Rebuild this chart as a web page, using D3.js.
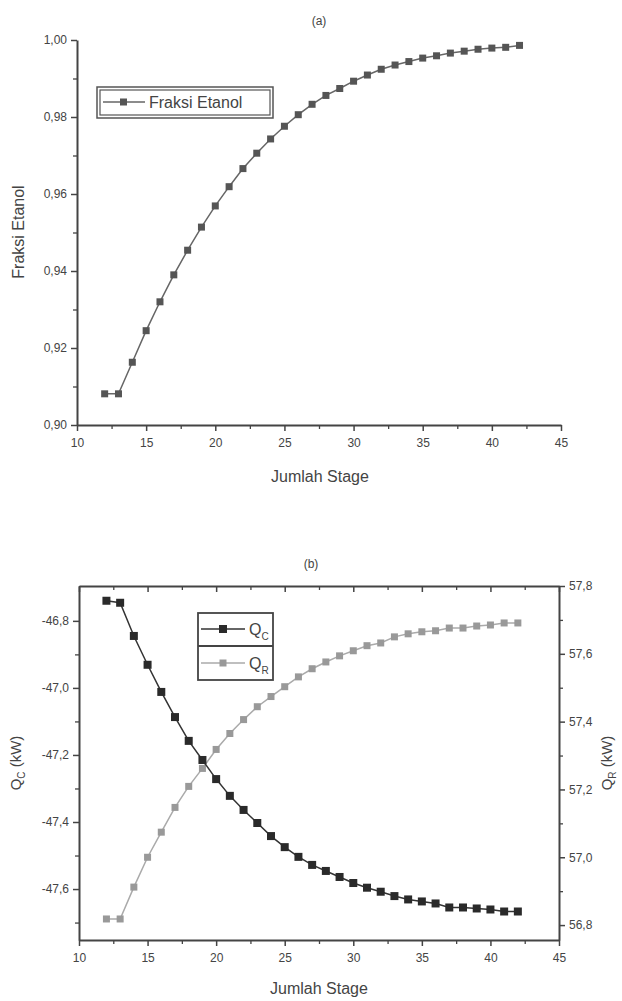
<!DOCTYPE html>
<html><head><meta charset="utf-8">
<script src="https://cdn.jsdelivr.net/npm/d3@7"></script>
<style>body{margin:0;background:#fff}svg{display:block}text{font-family:"Liberation Sans",Arial,sans-serif;fill:#444}</style>
</head><body>
<svg id="c" width="622" height="1001"></svg>
<script>
const stages = [12,13,14,15,16,17,18,19,20,21,22,23,24,25,26,27,28,29,30,31,32,33,34,35,36,37,38,39,40,41,42];
const fraksiEtanol = [0.9081,0.9081,0.9163,0.9245,0.9320,0.9390,0.9454,0.9514,0.9569,0.9619,0.9666,0.9706,0.9743,0.9776,0.9806,0.9833,0.9856,0.9874,0.9893,0.9909,0.9924,0.9935,0.9944,0.9953,0.9959,0.9966,0.9971,0.9976,0.9979,0.9981,0.9986];
const qc = [-46.740,-46.746,-46.845,-46.931,-47.012,-47.087,-47.158,-47.215,-47.272,-47.322,-47.364,-47.403,-47.442,-47.475,-47.504,-47.528,-47.546,-47.564,-47.582,-47.596,-47.608,-47.621,-47.631,-47.637,-47.643,-47.655,-47.655,-47.658,-47.661,-47.667,-47.667];
const qr = [56.818,56.818,56.912,57.000,57.074,57.147,57.209,57.262,57.318,57.365,57.406,57.444,57.474,57.503,57.532,57.556,57.576,57.594,57.609,57.624,57.632,57.650,57.659,57.665,57.668,57.676,57.676,57.682,57.685,57.691,57.691];
const xTicks = [10,15,20,25,30,35,40,45];
const xMinor = [12.5,17.5,22.5,27.5,32.5,37.5,42.5];
const fraksiTicks = [0.90,0.92,0.94,0.96,0.98,1.00];
const fraksiMinor = [0.91,0.93,0.95,0.97,0.99];
const qcTicks = [-46.8,-47.0,-47.2,-47.4,-47.6];
const qcMinor = [-46.9,-47.1,-47.3,-47.5,-47.7];
const qrTicks = [56.8,57.0,57.2,57.4,57.6,57.8];
const qrMinor = [56.9,57.1,57.3,57.5,57.7];

const svg = d3.select("#c");
const AX = "#444";
const comma = f => d => d3.format(f)(d).replace(".", ",").replace("\u2212", "-");

function styleAxis(g, fs) {
  g.select(".domain").attr("stroke", AX).attr("stroke-width", 2);
  g.selectAll(".tick line").attr("stroke", AX).attr("stroke-width", 1.5);
  g.selectAll(".tick text").attr("fill", "#444").style("font-size", fs + "px").style("font-family", "'Liberation Sans',Arial,sans-serif");
}
function minorAxis(g, axis) {
  g.call(axis);
  g.select(".domain").remove();
  g.selectAll(".tick line").attr("stroke", AX).attr("stroke-width", 1.3);
}

// ---------- Panel (a) ----------
const xa = d3.scaleLinear().domain([10,45]).range([77,561]);
const ya = d3.scaleLinear().domain([0.90,1.00]).range([425,40]);

svg.append("g").attr("transform","translate(0,425)").call(g => minorAxis(g, d3.axisBottom(xa).tickValues(xMinor).tickSize(4).tickFormat("")));
svg.append("g").attr("transform","translate(77,0)").call(g => minorAxis(g, d3.axisLeft(ya).tickValues(fraksiMinor).tickSize(4).tickFormat("")));
svg.append("g").attr("transform","translate(0,425)")
  .call(d3.axisBottom(xa).tickValues(xTicks).tickSize(6).tickPadding(7).tickSizeOuter(0).tickFormat(d3.format("d")))
  .call(g => styleAxis(g, 12));
svg.append("g").attr("transform","translate(77,0)")
  .call(d3.axisLeft(ya).tickValues(fraksiTicks).tickSize(6).tickPadding(4).tickSizeOuter(0).tickFormat(comma(".2f")))
  .call(g => styleAxis(g, 12));

const lineA = d3.line().x((d,i) => xa(stages[i])).y(d => ya(d));
svg.append("path").datum(fraksiEtanol).attr("d", lineA).attr("fill","none").attr("stroke","#666").attr("stroke-width",1.5);
svg.append("g").selectAll("rect").data(fraksiEtanol).join("rect")
  .attr("x",(d,i)=>xa(stages[i])-3.5).attr("y",d=>ya(d)-3.5).attr("width",7).attr("height",7).attr("fill","#555");

svg.append("text").attr("x",319).attr("y",25).attr("text-anchor","middle").style("font-size","12px").text("(a)");
svg.append("text").attr("x",320).attr("y",482).attr("text-anchor","middle").style("font-size","16px").text("Jumlah Stage");
svg.append("text").attr("transform","translate(24,232) rotate(-90)").attr("text-anchor","middle").style("font-size","16px").text("Fraksi Etanol");

// legend (a)
const la = svg.append("g");
la.append("rect").attr("x",97).attr("y",87).attr("width",176).attr("height",31).attr("fill","#fff").attr("stroke","#555").attr("stroke-width",1.5);
la.append("rect").attr("x",100).attr("y",90).attr("width",170).attr("height",25).attr("fill","none").attr("stroke","#555").attr("stroke-width",1.2);
la.append("line").attr("x1",103).attr("x2",145).attr("y1",102).attr("y2",102).attr("stroke","#666").attr("stroke-width",1.5);
la.append("rect").attr("x",120).attr("y",98.5).attr("width",7).attr("height",7).attr("fill","#555");
la.append("text").attr("x",149).attr("y",108).style("font-size","16px").text("Fraksi Etanol");

// ---------- Panel (b) ----------
const xb = d3.scaleLinear().domain([10,45]).range([79,559]);
const yl = d3.scaleLinear().domain([-47.752,-46.696]).range([940,586]);
const yr = d3.scaleLinear().domain([56.756,57.8]).range([940,586]);

svg.append("g").attr("transform","translate(0,940)").call(g => minorAxis(g, d3.axisBottom(xb).tickValues(xMinor).tickSize(4).tickFormat("")));
svg.append("g").attr("transform","translate(0,586)").call(g => minorAxis(g, d3.axisBottom(xb).tickValues(xMinor).tickSize(4).tickFormat("")));
svg.append("g").attr("transform","translate(79,0)").call(g => minorAxis(g, d3.axisLeft(yl).tickValues(qcMinor).tickSize(4).tickFormat("")));
svg.append("g").attr("transform","translate(559,0)").call(g => minorAxis(g, d3.axisRight(yr).tickValues(qrMinor).tickSize(4).tickFormat("")));

svg.append("g").attr("transform","translate(0,940)")
  .call(d3.axisBottom(xb).tickValues(xTicks).tickSize(6).tickPadding(7).tickSizeOuter(0).tickFormat(d3.format("d")))
  .call(g => styleAxis(g, 12));
svg.append("g").attr("transform","translate(0,586)")
  .call(d3.axisBottom(xb).tickValues(xTicks).tickSize(6).tickSizeOuter(0).tickFormat(""))
  .call(g => styleAxis(g, 12));
svg.append("g").attr("transform","translate(79,0)")
  .call(d3.axisLeft(yl).tickValues(qcTicks).tickSize(6).tickPadding(4).tickSizeOuter(0).tickFormat(comma(".1f")))
  .call(g => styleAxis(g, 12));
svg.append("g").attr("transform","translate(559,0)")
  .call(d3.axisRight(yr).tickValues(qrTicks).tickSize(6).tickPadding(4).tickSizeOuter(0).tickFormat(comma(".1f")))
  .call(g => styleAxis(g, 12));

const lineQc = d3.line().x((d,i) => xb(stages[i])).y(d => yl(d));
const lineQr = d3.line().x((d,i) => xb(stages[i])).y(d => yr(d));
svg.append("path").datum(qr).attr("d", lineQr).attr("fill","none").attr("stroke","#aaa").attr("stroke-width",1.5);
svg.append("g").selectAll("rect").data(qr).join("rect")
  .attr("x",(d,i)=>xb(stages[i])-3.5).attr("y",d=>yr(d)-3.5).attr("width",7).attr("height",7).attr("fill","#999");
svg.append("path").datum(qc).attr("d", lineQc).attr("fill","none").attr("stroke","#333").attr("stroke-width",1.5);
svg.append("g").selectAll("rect").data(qc).join("rect")
  .attr("x",(d,i)=>xb(stages[i])-4).attr("y",d=>yl(d)-4).attr("width",8).attr("height",8).attr("fill","#2a2a2a");

svg.append("text").attr("x",311).attr("y",568).attr("text-anchor","middle").style("font-size","12px").text("(b)");
svg.append("text").attr("x",319).attr("y",994).attr("text-anchor","middle").style("font-size","16px").text("Jumlah Stage");
const tl = svg.append("text").attr("transform","translate(21,763) rotate(-90)").attr("text-anchor","middle").style("font-size","15px");
tl.append("tspan").text("Q");
tl.append("tspan").attr("dy",4).style("font-size","10px").text("C");
tl.append("tspan").attr("dy",-4).text(" (kW)");
const tr = svg.append("text").attr("transform","translate(612,763) rotate(-90)").attr("text-anchor","middle").style("font-size","15px");
tr.append("tspan").text("Q");
tr.append("tspan").attr("dy",4).style("font-size","10px").text("R");
tr.append("tspan").attr("dy",-4).text(" (kW)");

// legend (b)
const lb = svg.append("g");
lb.append("rect").attr("x",198).attr("y",613).attr("width",75).attr("height",67).attr("fill","#fff").attr("stroke","#444").attr("stroke-width",1.8);
lb.append("line").attr("x1",198).attr("x2",273).attr("y1",646).attr("y2",646).attr("stroke","#444").attr("stroke-width",2);
lb.append("line").attr("x1",201).attr("x2",245).attr("y1",629).attr("y2",629).attr("stroke","#333").attr("stroke-width",1.5);
lb.append("rect").attr("x",219).attr("y",625).attr("width",8).attr("height",8).attr("fill","#2a2a2a");
const t1 = lb.append("text").attr("x",249).attr("y",635).style("font-size","16px");
t1.append("tspan").text("Q"); t1.append("tspan").attr("dy",5).style("font-size","10px").text("C");
lb.append("line").attr("x1",201).attr("x2",245).attr("y1",663).attr("y2",663).attr("stroke","#aaa").attr("stroke-width",1.5);
lb.append("rect").attr("x",219.5).attr("y",659.5).attr("width",7).attr("height",7).attr("fill","#999");
const t2 = lb.append("text").attr("x",249).attr("y",669).style("font-size","16px");
t2.append("tspan").text("Q"); t2.append("tspan").attr("dy",5).style("font-size","10px").text("R");
</script>
</body></html>
